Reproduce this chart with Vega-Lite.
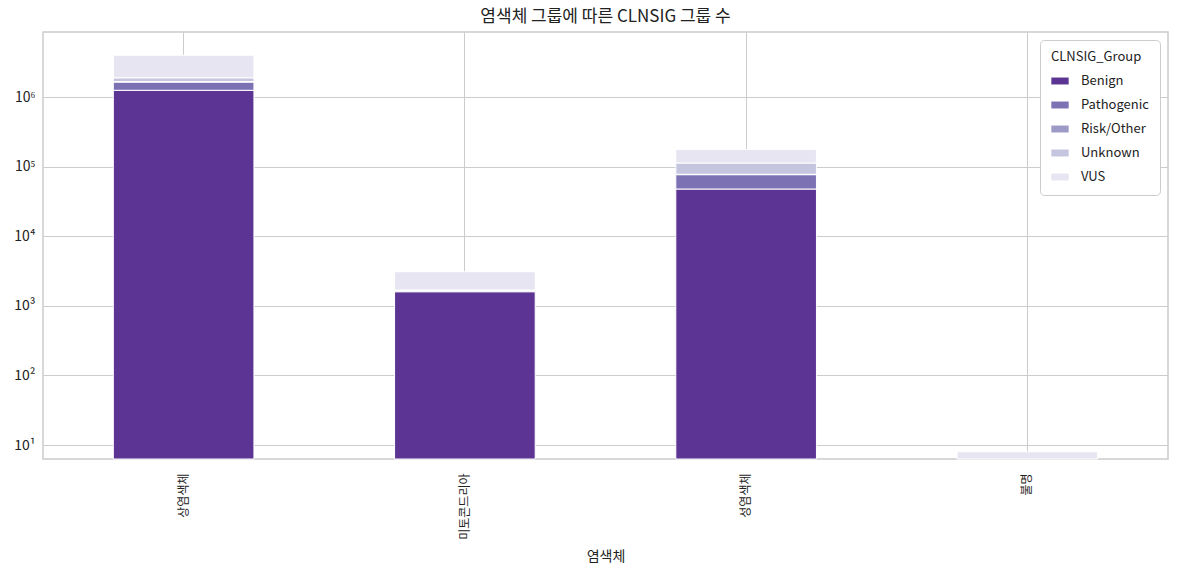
{
  "$schema": "https://vega.github.io/schema/vega-lite/v6.json",
  "width": 1125,
  "height": 427,
  "autosize": "none",
  "padding": {"left": 43, "top": 32, "right": 10, "bottom": 118},
  "title": {
    "text": "염색체 그룹에 따른 CLNSIG 그룹 수",
    "fontSize": 17,
    "fontWeight": "normal",
    "font": "Noto Sans CJK KR",
    "color": "#222222",
    "offset": 6
  },
  "data": {
    "values": [
      {"chrom": "상염색체", "group": "Benign", "count": 1250000},
      {"chrom": "상염색체", "group": "Pathogenic", "count": 390000},
      {"chrom": "상염색체", "group": "Risk/Other", "count": 30000},
      {"chrom": "상염색체", "group": "Unknown", "count": 220000},
      {"chrom": "상염색체", "group": "VUS", "count": 2100000},
      {"chrom": "미토콘드리아", "group": "Benign", "count": 1596},
      {"chrom": "미토콘드리아", "group": "Pathogenic", "count": 30},
      {"chrom": "미토콘드리아", "group": "Risk/Other", "count": 40},
      {"chrom": "미토콘드리아", "group": "Unknown", "count": 25},
      {"chrom": "미토콘드리아", "group": "VUS", "count": 1400},
      {"chrom": "성염색체", "group": "Benign", "count": 47700},
      {"chrom": "성염색체", "group": "Pathogenic", "count": 29000},
      {"chrom": "성염색체", "group": "Risk/Other", "count": 1000},
      {"chrom": "성염색체", "group": "Unknown", "count": 35000},
      {"chrom": "성염색체", "group": "VUS", "count": 64000},
      {"chrom": "불명", "group": "VUS", "count": 8}
    ]
  },
  "transform": [
    {
      "stack": "count",
      "groupby": ["chrom"],
      "sort": [{"field": "group", "order": "ascending"}],
      "as": ["y0", "y1"]
    }
  ],
  "mark": {"type": "bar", "stroke": "white", "strokeWidth": 1},
  "encoding": {
    "x": {
      "field": "chrom",
      "type": "nominal",
      "title": "염색체",
      "sort": ["상염색체", "미토콘드리아", "성염색체", "불명"],
      "scale": {"paddingInner": 0.5, "paddingOuter": 0.25},
      "axis": {
        "labelAngle": -90,
        "labelFontSize": 12,
        "titleFontSize": 14,
        "titleFontWeight": "normal",
        "titlePadding": 10,
        "labelPadding": 14,
        "grid": true,
        "bandPosition": 0.5,
        "ticks": false,
        "domain": false
      }
    },
    "y": {
      "field": "y1",
      "type": "quantitative",
      "title": null,
      "scale": {"type": "log", "domain": [6.3, 8600000], "clamp": true, "nice": false},
      "axis": {
        "values": [10, 100, 1000, 10000, 100000, 1000000],
        "labelExpr": "'10' + ['⁰','¹','²','³','⁴','⁵','⁶','⁷'][round(log(datum.value)/LN10)]",
        "labelFontSize": 14,
        "labelPadding": 8,
        "ticks": false,
        "domain": false,
        "grid": true
      }
    },
    "y2": {"field": "y0"},
    "color": {
      "field": "group",
      "type": "nominal",
      "title": "CLNSIG_Group",
      "scale": {
        "domain": ["Benign", "Pathogenic", "Risk/Other", "Unknown", "VUS"],
        "range": ["#5c3594", "#7b71b3", "#9e9ac8", "#c5c5e0", "#e7e5f1"]
      },
      "legend": {
        "orient": "top-right",
        "offset": 8,
        "fillColor": "white",
        "strokeColor": "#cccccc",
        "cornerRadius": 4,
        "padding": 11,
        "titleFontWeight": "normal",
        "titleFontSize": 13,
        "titlePadding": 8,
        "labelFontSize": 13,
        "labelOffset": 12,
        "rowPadding": 8,
        "symbolType": "M-1,-0.4L1,-0.4L1,0.4L-1,0.4Z",
        "symbolSize": 300,
        "symbolStrokeWidth": 0,
        "symbolOpacity": 1
      }
    }
  },
  "config": {
    "font": "Noto Sans CJK KR",
    "view": {"stroke": "#cccccc", "strokeWidth": 1.5},
    "axis": {
      "gridColor": "#cccccc",
      "gridWidth": 1,
      "labelColor": "#222222",
      "titleColor": "#222222"
    },
    "legend": {"labelColor": "#222222", "titleColor": "#222222"}
  }
}
